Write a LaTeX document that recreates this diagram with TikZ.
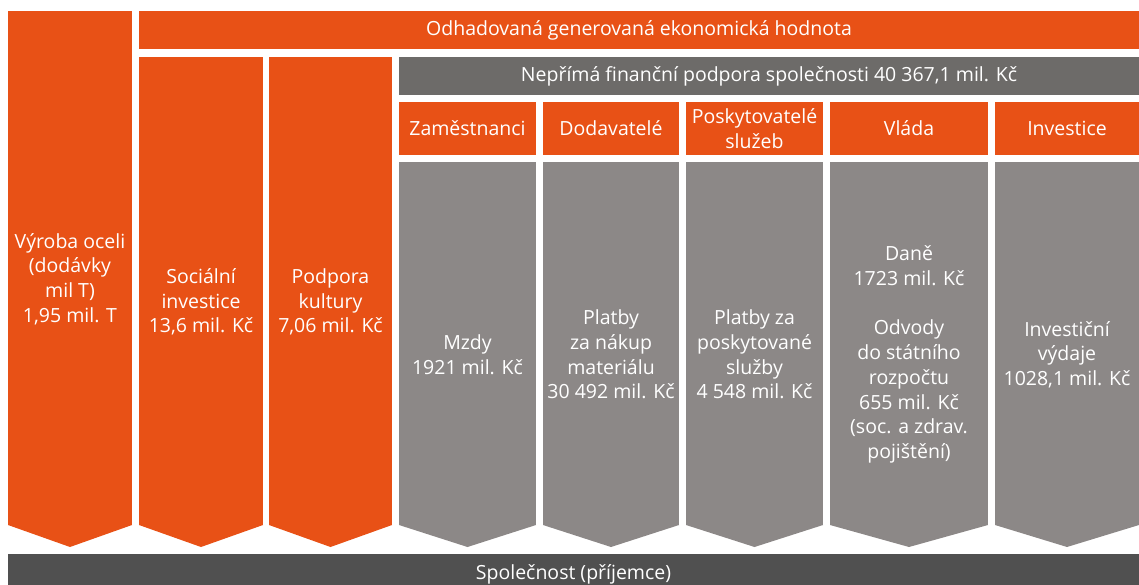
\documentclass[tikz,border=0pt]{standalone}
\usepackage{fontspec}
\setmainfont{Open Sans}
\usepackage{tikz}
\usetikzlibrary{positioning}

\definecolor{steelorange}{RGB}{232,81,22}
\definecolor{bargrey}{RGB}{109,107,105}
\definecolor{colgrey}{RGB}{140,136,135}
\definecolor{basegrey}{RGB}{80,80,80}

\tikzset{
  cell/.style={rectangle,inner sep=0pt,outer sep=0pt,text=white,align=center},
  obox/.style={cell,fill=steelorange},
  gbox/.style={cell,fill=colgrey},
  barbox/.style={cell,fill=bargrey},
  coltext/.style={cell,fill=none}
}

\begin{document}
\begin{tikzpicture}[x=1pt,y=-1pt,font=\fontsize{19.5}{24.7}\selectfont]
\useasboundingbox (0,0) rectangle (1139,585);

% orange block
\node[obox, anchor=north west, minimum width=124pt, minimum height=514pt](vyroba) at (8,11){};
\node[obox, anchor=north west, minimum width=1000pt, minimum height=38pt](odhad) at (139,11){Odhadovaná generovaná ekonomická hodnota};
\node[obox, anchor=north west, minimum width=124pt, minimum height=468pt](socialni) at (139,57){};
\node[obox, right=6pt of socialni, minimum width=123pt, minimum height=468pt](kultura){};

% indirect support
\node[barbox, anchor=north west, minimum width=740pt, minimum height=38pt](neprima) at (399,57){Nepřímá finanční podpora společnosti 40 367,1 mil. Kč};
\node[obox, anchor=north west, minimum width=137pt, minimum height=53pt](zamHead) at (399,102){Zaměstnanci};
\node[obox, right=7pt of zamHead, minimum width=136pt, minimum height=53pt](dodHead){Dodavatelé};
\node[obox, right=7pt of dodHead, minimum width=137pt, minimum height=53pt](poskHead){Poskytovatelé\\služeb};
\node[obox, right=7pt of poskHead, minimum width=158pt, minimum height=53pt](vladaHead){Vláda};
\node[obox, right=7pt of vladaHead, minimum width=144pt, minimum height=53pt](invHead){Investice};

\node[gbox, below=7pt of zamHead, minimum width=137pt, minimum height=363pt](zamCol){};
\node[gbox, below=7pt of dodHead, minimum width=136pt, minimum height=363pt](dodCol){};
\node[gbox, below=7pt of poskHead, minimum width=137pt, minimum height=363pt](poskCol){};
\node[gbox, below=7pt of vladaHead, minimum width=158pt, minimum height=363pt](vladaCol){};
\node[gbox, below=7pt of invHead, minimum width=144pt, minimum height=363pt](invCol){};

% arrow tips
\fill[steelorange] (vyroba.south west) -- (vyroba.south east) -- ([yshift=-22pt]vyroba.south) -- cycle;
\fill[steelorange] (socialni.south west) -- (socialni.south east) -- ([yshift=-22pt]socialni.south) -- cycle;
\fill[steelorange] (kultura.south west) -- (kultura.south east) -- ([yshift=-22pt]kultura.south) -- cycle;
\fill[colgrey] (zamCol.south west) -- (zamCol.south east) -- ([yshift=-22pt]zamCol.south) -- cycle;
\fill[colgrey] (dodCol.south west) -- (dodCol.south east) -- ([yshift=-22pt]dodCol.south) -- cycle;
\fill[colgrey] (poskCol.south west) -- (poskCol.south east) -- ([yshift=-22pt]poskCol.south) -- cycle;
\fill[colgrey] (vladaCol.south west) -- (vladaCol.south east) -- ([yshift=-22pt]vladaCol.south) -- cycle;
\fill[colgrey] (invCol.south west) -- (invCol.south east) -- ([yshift=-22pt]invCol.south) -- cycle;

% column texts
\node[coltext](vyrobaTxt) at ([yshift=-11pt]vyroba.center){Výroba oceli\\(dodávky\\mil T)\\1,95 mil. T};
\node[coltext](socialniTxt) at ([yshift=-11pt]socialni.center){Sociální\\investice\\13,6 mil. Kč};
\node[coltext](kulturaTxt) at ([yshift=-11pt]kultura.center){Podpora\\kultury\\7,06 mil. Kč};
\node[coltext](zamTxt) at ([yshift=-11pt]zamCol.center){Mzdy\\1921 mil. Kč};
\node[coltext](dodTxt) at ([yshift=-11pt]dodCol.center){Platby\\za nákup\\materiálu\\30 492 mil. Kč};
\node[coltext](poskTxt) at ([yshift=-11pt]poskCol.center){Platby za\\poskytované\\služby\\4 548 mil. Kč};
\node[coltext](vladaTxt) at ([yshift=-11pt]vladaCol.center){Daně\\1723 mil. Kč\\[24.7pt]Odvody\\do státního\\rozpočtu\\655 mil. Kč\\(soc. a zdrav.\\pojištění)};
\node[coltext](invTxt) at ([yshift=-11pt]invCol.center){Investiční\\výdaje\\1028,1 mil. Kč};

% receiver
\node[cell, fill=basegrey, anchor=north west, minimum width=1131pt, minimum height=40pt](spolecnost) at (8,554){Společnost (příjemce)};

\end{tikzpicture}
\end{document}
